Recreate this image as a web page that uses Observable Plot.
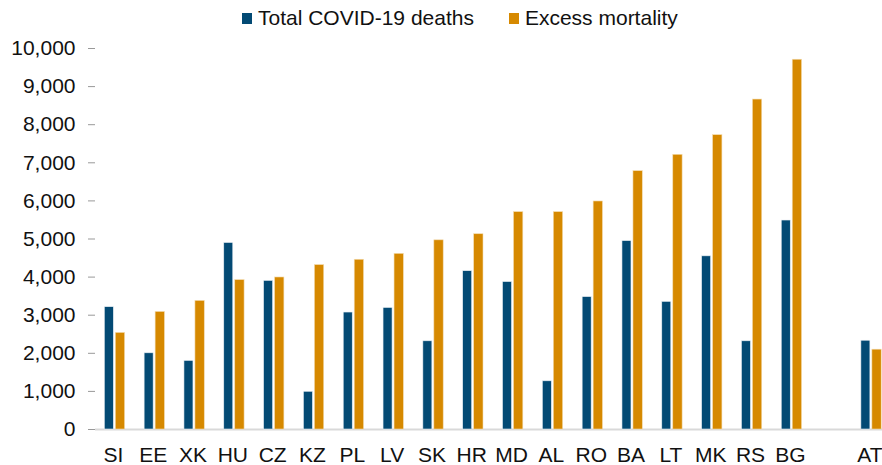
<!DOCTYPE html>
<html>
<head>
<meta charset="utf-8">
<script src="https://cdn.jsdelivr.net/npm/d3@7"></script>
<script src="https://cdn.jsdelivr.net/npm/@observablehq/plot@0.6"></script>
<style>
  html, body { margin: 0; padding: 0; background: #fff; }
  body { width: 882px; height: 465px; overflow: hidden; font-family: Arial, "Liberation Sans", sans-serif; }
  #legend { height: 36px; display: flex; align-items: center; padding-left: 242px; font-size: 21px; color: #111; }
  .item { display: flex; align-items: center; margin-right: 35px; }
  .sw { width: 10px; height: 11px; margin-right: 6px; }
  svg { display: block; }
</style>
</head>
<body>
<div id="legend"></div>
<div id="chart"></div>
<script>
const countries = ["SI","EE","XK","HU","CZ","KZ","PL","LV","SK","HR","MD","AL","RO","BA","LT","MK","RS","BG","","AT"];
const covidDeaths = [3210, 2000, 1800, 4895, 3900, 990, 3070, 3190, 2315, 4155, 3870, 1265, 3475, 4945, 3350, 4545, 2315, 5485, null, 2330];
const excessMortality = [2535, 3085, 3375, 3920, 3990, 4315, 4455, 4610, 4965, 5125, 5705, 5705, 5985, 6780, 7210, 7725, 8660, 9705, null, 2095];
const yTicks = [0,1000,2000,3000,4000,5000,6000,7000,8000,9000,10000];
const seriesNames = ["Total COVID-19 deaths", "Excess mortality"];
const seriesColors = ["#034a74", "#d68900"];

const legend = document.getElementById("legend");
seriesNames.forEach((n, i) => {
  const it = document.createElement("div");
  it.className = "item";
  it.innerHTML = `<span class="sw" style="background:${seriesColors[i]}"></span><span>${n}</span>`;
  legend.appendChild(it);
});

const deaths = countries.map((c, i) => ({country: c, value: covidDeaths[i]})).filter(d => d.value != null);
const excess = countries.map((c, i) => ({country: c, value: excessMortality[i]})).filter(d => d.value != null);

const bandW = 39.82;
const chart = Plot.plot({
  width: 882,
  height: 429,
  marginLeft: 95,
  marginRight: 0,
  marginTop: 12,
  marginBottom: 36,
  style: {fontFamily: "Arial, 'Liberation Sans', sans-serif", fontSize: "21px", color: "#111", background: "#fff"},
  x: {domain: countries, range: [95, 95 + bandW * countries.length], padding: 0, round: false, label: null},
  y: {domain: [0, 10000], label: null},
  marks: [
    Plot.ruleY([0], {stroke: "#d9d9d9", strokeWidth: 2}),
    Plot.barY(deaths, {x: "country", y: "value", fill: seriesColors[0], insetLeft: 9.3, insetRight: 21.5, stroke: "#e8eef3", strokeWidth: 0.6}),
    Plot.barY(excess, {x: "country", y: "value", fill: seriesColors[1], insetLeft: 20.3, insetRight: 10.2, stroke: "#f3dcb0", strokeWidth: 0.6}),
    Plot.axisY({ticks: yTicks, tickFormat: d3.format(","), tickSize: 7, tickPadding: 13, stroke: "#999", fontSize: 21}),
    Plot.ruleX([0], {x: () => null, frameAnchor: "left", stroke: "#999", strokeWidth: 1.5}),
    Plot.axisX({tickSize: 0, tickPadding: 18, fontSize: 21, dx: -2})
  ]
});
document.getElementById("chart").appendChild(chart);
</script>
</body>
</html>
